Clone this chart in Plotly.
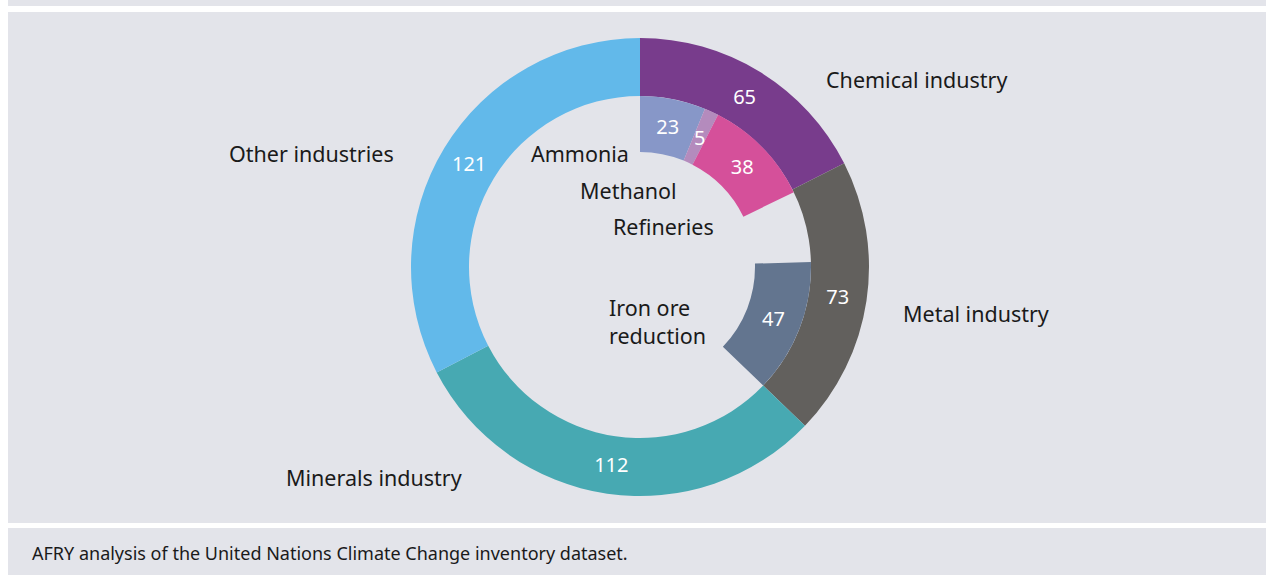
import math
import plotly.graph_objects as go

# Sector totals (outer ring)
sectors = ["Chemical industry", "Metal industry", "Minerals industry", "Other industries"]
sector_values = [65, 73, 112, 121]
sector_colors = ["#783c8c", "#62605d", "#47a9b2", "#62b9ea"]

# Sub-processes (inner ring)
processes = ["Ammonia", "Methanol", "Refineries", "Iron ore reduction"]
process_values = [23, 5, 38, 47]
process_colors = ["#8797c8", "#b48bbd", "#d5509a", "#63758f"]

caption = "AFRY analysis of the United Nations Climate Change inventory dataset."

W, H = 1266, 575
FONT = "Noto Sans"
LABEL_SIZE = 21.5
PANEL = "#e3e4ea"


def px(x):
    return x / W


def py(y):
    return 1 - y / H


# Inner ring: chemical sub-processes, a spacer so iron ore ends with the metal
# sector, then an empty remainder for the rest of the circle.
chem_sub = sum(process_values[:3])
gap1 = sector_values[0] + sector_values[1] - chem_sub - process_values[3]
gap2 = sum(sector_values) - sector_values[0] - sector_values[1]
inner_values = process_values[:3] + [gap1, process_values[3], gap2]
inner_colors = process_colors[:3] + ["rgba(0,0,0,0)", process_colors[3], "rgba(0,0,0,0)"]
# the thin methanol slice gets its value as a separate annotation
inner_text = [str(process_values[0]), "", str(process_values[2]), "",
              str(process_values[3]), ""]

cx, cy = 640, 267
r_out, r_mid, r_in = 229, 171, 115

fig = go.Figure()

fig.add_trace(go.Pie(
    values=sector_values,
    labels=sectors,
    marker=dict(colors=sector_colors, line=dict(width=0)),
    hole=r_mid / r_out,
    sort=False,
    direction="clockwise",
    rotation=0,
    text=[str(v) for v in sector_values],
    textinfo="text",
    textposition="inside",
    insidetextorientation="horizontal",
    insidetextfont=dict(family=FONT, size=20, color="white"),
    domain=dict(x=[px(cx - r_out), px(cx + r_out)], y=[py(cy + r_out), py(cy - r_out)]),
    showlegend=False,
    hoverinfo="label+value",
))

fig.add_trace(go.Pie(
    values=inner_values,
    labels=processes[:3] + [" ", processes[3], "  "],
    marker=dict(colors=inner_colors, line=dict(width=0)),
    hole=r_in / r_mid,
    sort=False,
    direction="clockwise",
    rotation=0,
    text=inner_text,
    textinfo="text",
    textposition="inside",
    insidetextorientation="horizontal",
    insidetextfont=dict(family=FONT, size=20, color="white"),
    domain=dict(x=[px(cx - r_mid), px(cx + r_mid)], y=[py(cy + r_mid), py(cy - r_mid)]),
    showlegend=False,
    hoverinfo="skip",
))

# Background panels
shapes = [
    dict(type="rect", xref="paper", yref="paper", x0=px(8), x1=1, y0=py(6), y1=py(0),
         fillcolor=PANEL, line=dict(width=0), layer="below"),
    dict(type="rect", xref="paper", yref="paper", x0=px(8), x1=1, y0=py(523), y1=py(12),
         fillcolor=PANEL, line=dict(width=0), layer="below"),
    dict(type="rect", xref="paper", yref="paper", x0=px(8), x1=1, y0=py(575), y1=py(528),
         fillcolor=PANEL, line=dict(width=0), layer="below"),
]

# Label positions (left edge, vertical centre) in pixels
label_pos = {
    "Chemical industry": (824, 79),
    "Metal industry": (901, 313),
    "Minerals industry": (284, 477),
    "Other industries": (227, 153),
    "Ammonia": (529, 153),
    "Methanol": (578, 191),
    "Refineries": (611, 226),
    "Iron ore<br>reduction": (607, 321),
}

annotations = []
for name, (x, y) in label_pos.items():
    annotations.append(dict(
        text=name, x=px(x), y=py(y), xref="paper", yref="paper",
        xanchor="left", yanchor="middle", align="left", showarrow=False,
        font=dict(family=FONT, size=LABEL_SIZE, color="#1a1a1a"),
    ))

# Methanol value, placed at the middle of its slice
total = sum(sector_values)
mid = process_values[0] + process_values[1] / 2
ang = math.radians(mid / total * 360)
r_text = (r_mid + r_in) / 2
annotations.append(dict(
    text=str(process_values[1]),
    x=px(cx + r_text * math.sin(ang)), y=py(cy - r_text * math.cos(ang)),
    xref="paper", yref="paper", xanchor="center", yanchor="middle", showarrow=False,
    font=dict(family=FONT, size=20, color="white"),
))

annotations.append(dict(
    text=caption, x=px(30), y=py(553), xref="paper", yref="paper",
    xanchor="left", yanchor="middle", showarrow=False,
    font=dict(family=FONT, size=18, color="#1a1a1a"),
))

fig.update_layout(
    width=W, height=H,
    margin=dict(l=0, r=0, t=0, b=0),
    paper_bgcolor="white",
    plot_bgcolor="white",
    shapes=shapes,
    annotations=annotations,
)

fig.write_html("out.html")
